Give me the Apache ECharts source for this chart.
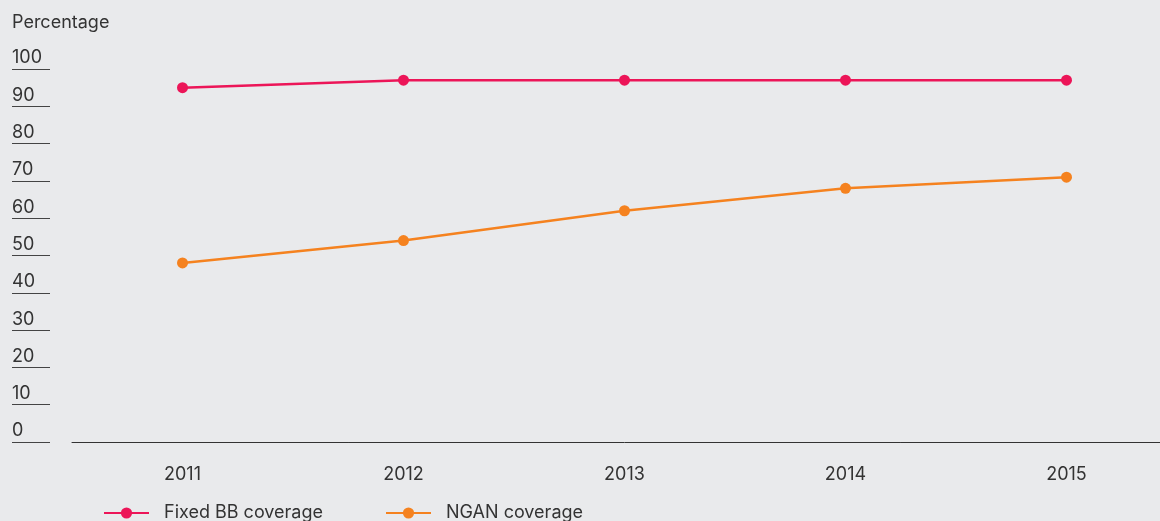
<!DOCTYPE html>
<html>
<head>
<meta charset="utf-8">
<script src="https://cdn.jsdelivr.net/npm/echarts@6/dist/echarts.min.js"></script>
<style>
html,body{margin:0;padding:0;background:#e9eaec;overflow:hidden;}
#c{width:1177px;height:521px;}
</style>
</head>
<body>
<div id="c"></div>
<script>
const years = ['2011', '2012', '2013', '2014', '2015'];
const fixedBB = [95, 97, 97, 97, 97];
const ngan = [48, 54, 62, 68, 71];
const yTicks = [0, 10, 20, 30, 40, 50, 60, 70, 80, 90, 100];

const font = 'Inter, "Noto Sans", sans-serif';
const chart = echarts.init(document.getElementById('c'));
chart.setOption({
  backgroundColor: '#e9eaec',
  textStyle: { fontFamily: font },
  title: {
    text: 'Percentage', left: 7, top: 9,
    textStyle: { fontSize: 18, fontWeight: 'normal', color: '#333', fontFamily: font }
  },
  legend: {
    left: 98, top: 499, itemWidth: 45, itemHeight: 14, itemGap: 62,
    textStyle: { fontSize: 18, color: '#333', fontFamily: font, padding: [0, 0, 0, 10] },
    data: ['Fixed BB coverage', 'NGAN coverage']
  },
  grid: { left: 72, top: 69, right: 0, height: 373, containLabel: false },
  xAxis: {
    type: 'category', data: years, boundaryGap: true,
    axisLine: { show: true, lineStyle: { color: '#333', width: 1 } },
    axisTick: { show: false },
    axisLabel: { fontSize: 18, color: '#333', margin: 24, fontFamily: font }
  },
  yAxis: {
    type: 'value', min: 0, max: 100, interval: 10, offset: 22,
    axisLine: { show: false },
    axisTick: { show: true, length: 38, lineStyle: { color: '#444', width: 1 } },
    splitLine: { show: false },
    axisLabel: {
      fontSize: 18, color: '#333', align: 'left', verticalAlign: 'bottom', margin: 38,
      padding: [0, 0, 2, 0], fontFamily: font,
      formatter: v => yTicks.includes(v) ? String(v) : ''
    }
  },
  series: [
    {
      name: 'Fixed BB coverage', type: 'line', data: fixedBB,
      symbol: 'circle', symbolSize: 11,
      lineStyle: { color: '#ec1558', width: 2.5 },
      itemStyle: { color: '#ec1558' }
    },
    {
      name: 'NGAN coverage', type: 'line', data: ngan,
      symbol: 'circle', symbolSize: 11,
      lineStyle: { color: '#f5821f', width: 2.5 },
      itemStyle: { color: '#f5821f' }
    }
  ]
});
</script>
</body>
</html>
